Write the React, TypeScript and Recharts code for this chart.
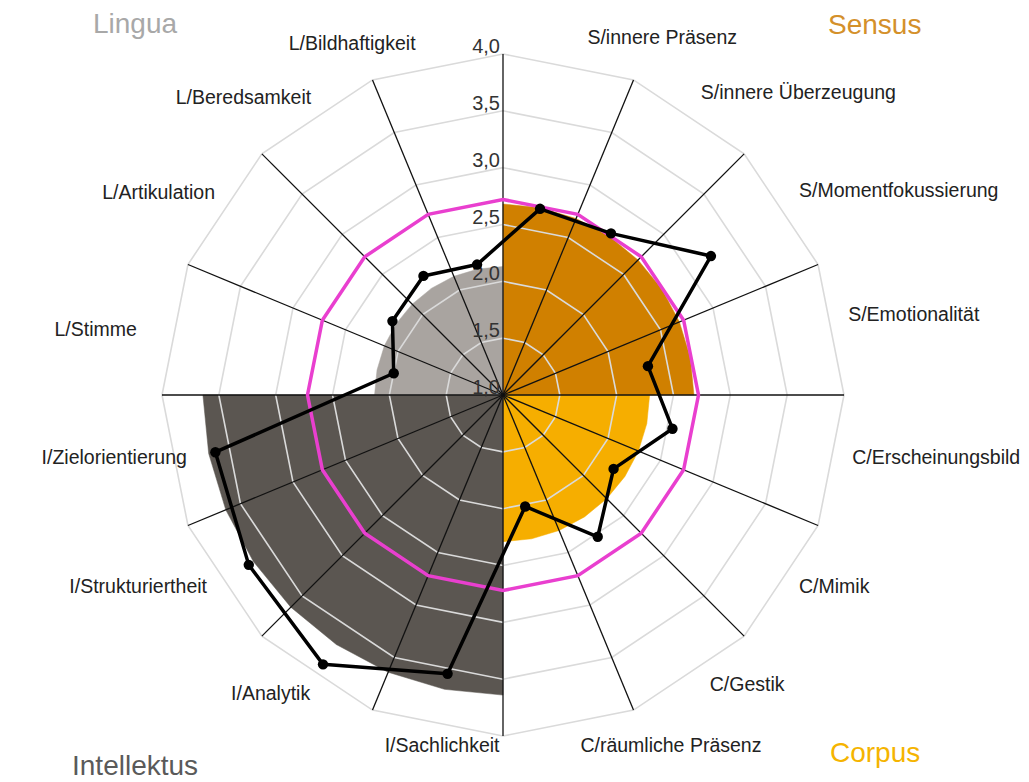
import React from "react";
import {
  RadarChart,
  Radar,
  PolarGrid,
  PolarAngleAxis,
  PolarRadiusAxis,
} from "recharts";

// the 16 criteria, clockwise from the top
const categories = [
  "S/innere Präsenz",
  "S/innere Überzeugung",
  "S/Momentfokussierung",
  "S/Emotionalität",
  "C/Erscheinungsbild",
  "C/Mimik",
  "C/Gestik",
  "C/räumliche Präsenz",
  "I/Sachlichkeit",
  "I/Analytik",
  "I/Strukturiertheit",
  "I/Zielorientierung",
  "L/Stimme",
  "L/Artikulation",
  "L/Beredsamkeit",
  "L/Bildhaftigkeit",
];
const scores = [
  2.67, 2.71, 3.2, 2.3, 2.52, 2.17, 2.5, 2.0, 3.5, 3.85, 3.69, 3.58, 1.98,
  2.17, 2.26, 2.17,
];
const groups = ["Sensus", "Corpus", "Intellektus", "Lingua"];
const groupAverages = [2.68, 2.29, 3.64, 2.13];
const overallAverage = 2.72;
const radiusTicks = [1, 1.5, 2, 2.5, 3, 3.5, 4];

const groupColors = ["#d08000", "#f6ae00", "#5b5651", "#a9a4a0"];
const titleColors = ["#d4902a", "#f5b400", "#5a5a5a", "#a8a8a8"];

const W = 1029;
const H = 782;
const CX = 503;
const CY = 395;
const R = 341;
const LABEL_R = 356;
const FONT = '"Liberation Sans", Arial, Helvetica, sans-serif';
const DOMAIN: [number, number] = [radiusTicks[0], radiusTicks[radiusTicks.length - 1]];

const N = categories.length;
// half-step slots (spokes + criteria) for the quadrant wedges
const SLOTS = N * 2;
const PER_GROUP = SLOTS / groups.length;

const wedgeRows = Array.from({ length: SLOTS }, (_, i) => {
  const row: Record<string, string | number> = { key: `w${i}` };
  groups.forEach((g, gi) => {
    const start = gi * PER_GROUP;
    const end = start + PER_GROUP;
    const inside = (i >= start && i <= end) || (end === SLOTS && i === 0);
    // outside its quadrant a wedge collapses to the centre
    row[g] = inside ? groupAverages[gi] : DOMAIN[0];
  });
  return row;
});

// spokes (grid + overall average ring)
const spokeRows = Array.from({ length: N }, (_, i) => ({
  key: `s${i}`,
  mean: overallAverage,
}));

// criteria sit half a step clockwise of the spokes
const scoreRows = categories.map((name, i) => ({ name, score: scores[i] }));
const HALF_STEP = 360 / SLOTS;

// small per-label shifts so the text sits like in the original
const labelNudges: Record<string, [number, number]> = {
  "S/innere Präsenz": [15, -2],
  "S/Emotionalität": [-4, -5],
  "C/Gestik": [9, 0],
  "C/räumliche Präsenz": [8, 8],
  "I/Sachlichkeit": [66, 8],
  "I/Analytik": [5, 9],
  "I/Zielorientierung": [33, 0],
  "L/Stimme": [-17, 10],
  "L/Artikulation": [8, 2],
  "L/Beredsamkeit": [6, 5],
  "L/Bildhaftigkeit": [-18, 4],
};

const AngleLabel = (props: any) => {
  const { payload } = props;
  const label = String(payload.value);
  const rad = (-payload.coordinate * Math.PI) / 180;
  const [nx, ny] = labelNudges[label] || [0, 0];
  const x = CX + LABEL_R * Math.cos(rad) + nx;
  const y = CY + LABEL_R * Math.sin(rad) + ny;
  const anchor = Math.cos(rad) >= 0 ? "start" : "end";
  return (
    <text
      x={x}
      y={y}
      textAnchor={anchor}
      fontSize={19.5}
      fontFamily={FONT}
      fill="#222"
    >
      {label}
    </text>
  );
};

const RadiusLabel = (props: any) => {
  const { x, y, payload } = props;
  return (
    <text
      x={x - 3}
      y={y - 1}
      textAnchor="end"
      fontSize={20}
      fontFamily={FONT}
      fill="#333"
    >
      {Number(payload.value).toFixed(1).replace(".", ",")}
    </text>
  );
};

const ScoreDot = (props: any) => {
  const { cx, cy, index } = props;
  if (!Number.isFinite(cx) || !Number.isFinite(cy)) return <g key={index} />;
  return <circle key={index} cx={cx} cy={cy} r={5.2} fill="#000" />;
};

const titlePos: [number, number][] = [
  [828, 34],
  [830, 762],
  [72, 775],
  [93, 33],
];

const layer: React.CSSProperties = { position: "absolute", left: 0, top: 0 };

const common = {
  width: W,
  height: H,
  cx: CX,
  cy: CY,
  outerRadius: R,
  margin: { top: 0, right: 0, bottom: 0, left: 0 },
};

export default function App() {
  return (
    <div
      style={{
        position: "absolute",
        left: 0,
        top: 0,
        width: W,
        height: H,
        background: "#fff",
      }}
    >
      {/* quadrant averages as wedges */}
      <div style={layer}>
        <RadarChart {...common} data={wedgeRows} startAngle={90} endAngle={-270}>
          <PolarAngleAxis dataKey="key" tick={false} axisLine={false} tickLine={false} />
          <PolarRadiusAxis domain={DOMAIN} tick={false} axisLine={false} tickLine={false} />
          {groups.map((g, gi) => (
            <Radar
              key={g}
              dataKey={g}
              fill={groupColors[gi]}
              fillOpacity={1}
              stroke={groupColors[gi]}
              strokeWidth={0.5}
              dot={false}
              activeDot={false}
              isAnimationActive={false}
            />
          ))}
        </RadarChart>
      </div>

      {/* grid, scale and overall average */}
      <div style={layer}>
        <RadarChart {...common} data={spokeRows} startAngle={90} endAngle={-270}>
          <PolarGrid
            gridType="polygon"
            radialLines={false}
            stroke="#dadada"
            strokeWidth={1.6}
          />
          <PolarGrid gridType="polygon" polarRadius={[]} stroke="#111" strokeWidth={1.3} />
          <PolarAngleAxis dataKey="key" tick={false} axisLine={false} tickLine={false} />
          <PolarRadiusAxis
            angle={90}
            type="number"
            domain={DOMAIN}
            ticks={radiusTicks}
            tickCount={radiusTicks.length}
            axisLine={false}
            tickLine={false}
            tick={<RadiusLabel />}
          />
          <Radar
            dataKey="mean"
            fill="none"
            fillOpacity={0}
            stroke="#e93fcf"
            strokeWidth={3.5}
            dot={false}
            activeDot={false}
            isAnimationActive={false}
          />
        </RadarChart>
      </div>

      {/* individual scores */}
      <div style={layer}>
        <RadarChart
          {...common}
          data={scoreRows}
          startAngle={90 - HALF_STEP}
          endAngle={-270 - HALF_STEP}
        >
          <PolarAngleAxis
            dataKey="name"
            tick={<AngleLabel />}
            axisLine={false}
            tickLine={false}
          />
          <PolarRadiusAxis domain={DOMAIN} tick={false} axisLine={false} tickLine={false} />
          <Radar
            dataKey="score"
            fill="none"
            fillOpacity={0}
            stroke="#000"
            strokeWidth={3.5}
            strokeLinejoin="round"
            dot={<ScoreDot />}
            activeDot={false}
            isAnimationActive={false}
          />
        </RadarChart>
      </div>

      <svg width={W} height={H} style={{ ...layer, pointerEvents: "none" }}>
        {groups.map((g, gi) => (
          <text
            key={g}
            x={titlePos[gi][0]}
            y={titlePos[gi][1]}
            fontSize={28}
            fontFamily={FONT}
            fill={titleColors[gi]}
          >
            {g}
          </text>
        ))}
      </svg>
    </div>
  );
}
